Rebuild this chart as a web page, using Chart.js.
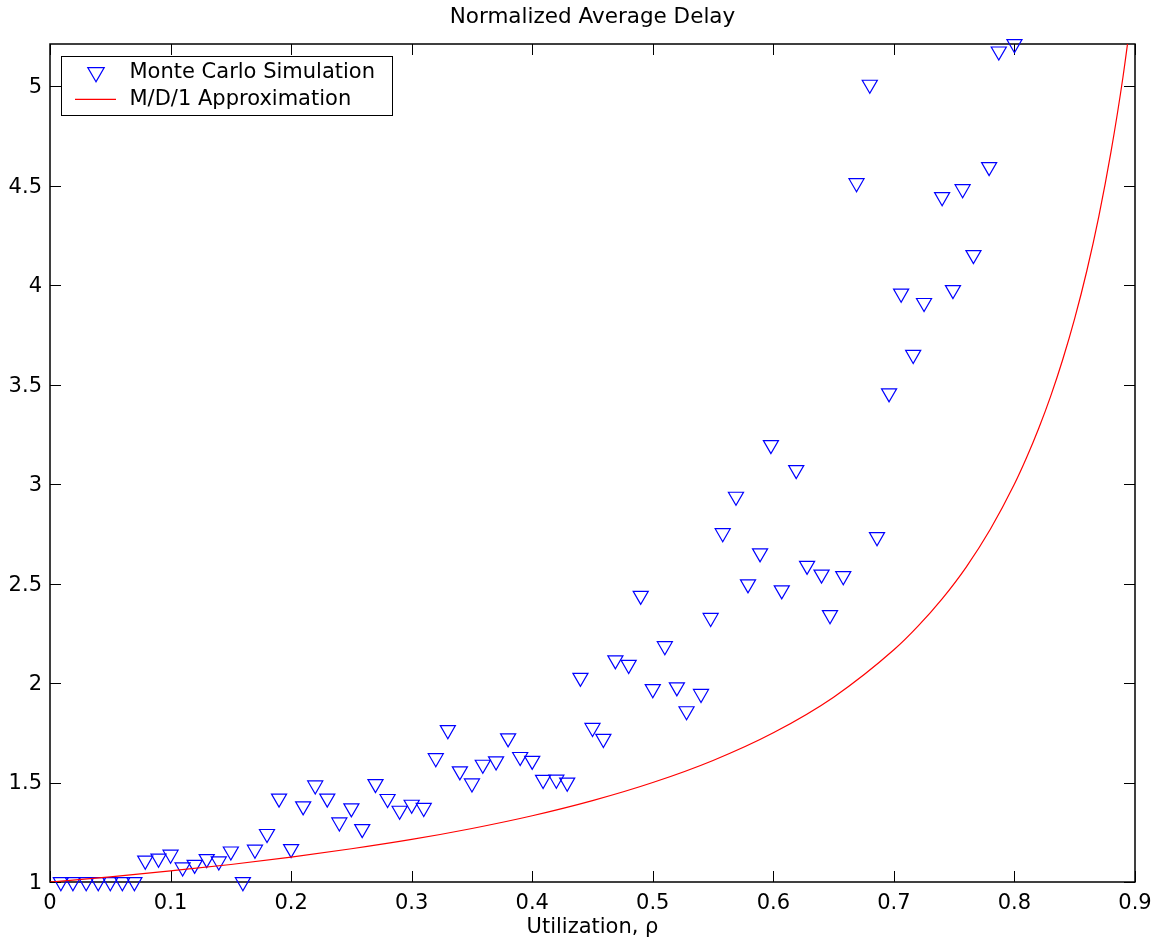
<!DOCTYPE html>
<html>
<head>
<meta charset="utf-8">
<script src="https://cdn.jsdelivr.net/npm/chart.js@4.4.1/dist/chart.umd.min.js"></script>
<style>
  html, body { margin: 0; padding: 0; background: #fff; }
  canvas { display: block; }
</style>
</head>
<body>
<canvas id="chart" width="1162" height="949"></canvas>
<script>
// Monte Carlo runs: measured utilization and normalized average delay
const simRho = [
  0.009, 0.019, 0.030, 0.040, 0.050, 0.060, 0.070, 0.079, 0.090, 0.100,
  0.110, 0.120, 0.130, 0.140, 0.150, 0.160, 0.170, 0.180, 0.190, 0.200,
  0.210, 0.220, 0.230, 0.240, 0.250, 0.259, 0.270, 0.280, 0.290, 0.300,
  0.310, 0.320, 0.330, 0.340, 0.350, 0.359, 0.370, 0.380, 0.390, 0.400,
  0.409, 0.420, 0.429, 0.440, 0.450, 0.459, 0.469, 0.480, 0.490, 0.500,
  0.510, 0.520, 0.528, 0.540, 0.548, 0.558, 0.569, 0.579, 0.589, 0.598,
  0.607, 0.619, 0.628, 0.640, 0.647, 0.658, 0.669, 0.680, 0.686, 0.696,
  0.706, 0.716, 0.725, 0.740, 0.749, 0.757, 0.766, 0.779, 0.787, 0.800
];
const simDelay = [
  1.000, 1.000, 1.000, 1.000, 1.000, 1.000, 1.000, 1.108, 1.118, 1.138,
  1.074, 1.087, 1.116, 1.104, 1.154, 1.000, 1.163, 1.242, 1.420, 1.166,
  1.381, 1.486, 1.420, 1.300, 1.371, 1.267, 1.493, 1.418, 1.359, 1.389,
  1.373, 1.623, 1.764, 1.557, 1.496, 1.590, 1.607, 1.723, 1.629, 1.610,
  1.514, 1.515, 1.500, 2.027, 1.775, 1.720, 2.115, 2.092, 2.439, 1.970,
  2.186, 1.979, 1.859, 1.946, 2.328, 2.754, 2.937, 2.497, 2.653, 3.197,
  2.467, 3.071, 2.590, 2.546, 2.342, 2.538, 4.513, 5.008, 2.734, 3.457,
  3.958, 3.650, 3.911, 4.443, 3.976, 4.483, 4.152, 4.594, 5.175, 5.212
];

// M/D/1 approximation curve
const mdRho = [
  0, 0.05, 0.1, 0.15, 0.2, 0.25, 0.3, 0.35, 0.4, 0.45, 0.5, 0.55, 0.6, 0.65,
  0.7, 0.72, 0.74, 0.76, 0.78, 0.8, 0.81, 0.82, 0.83, 0.84, 0.85, 0.86, 0.87,
  0.88, 0.89, 0.9
];
const mdDelay = [
  1, 1.026, 1.056, 1.088, 1.125, 1.167, 1.214, 1.269, 1.333, 1.409, 1.5, 1.611, 1.75, 1.929,
  2.167, 2.286, 2.423, 2.583, 2.773, 3.0, 3.132, 3.278, 3.441, 3.625, 3.833, 4.071, 4.346,
  4.667, 5.045, 5.5
];

const xTicks = [0, 0.1, 0.2, 0.3, 0.4, 0.5, 0.6, 0.7, 0.8, 0.9];
const xTickLabels = ['0', '0.1', '0.2', '0.3', '0.4', '0.5', '0.6', '0.7', '0.8', '0.9'];
const yTicks = [1, 1.5, 2, 2.5, 3, 3.5, 4, 4.5, 5];
const yTickLabels = ['1', '1.5', '2', '2.5', '3', '3.5', '4', '4.5', '5'];
const yMax = 5.212;

const FONT = 'DejaVu Sans';
Chart.defaults.font.family = FONT;
Chart.defaults.color = '#000';

// box round the plot with inward ticks on all four sides
const axesBox = {
  id: 'axesBox',
  beforeDatasetsDraw(chart) {
    const { ctx, chartArea: a, scales } = chart;
    const len = 11;
    ctx.save();
    ctx.strokeStyle = '#000';
    ctx.lineWidth = 1;
    ctx.beginPath();
    xTicks.forEach(v => {
      const px = Math.round(scales.x.getPixelForValue(v)) + 0.5;
      ctx.moveTo(px, a.bottom); ctx.lineTo(px, a.bottom - len);
      ctx.moveTo(px, a.top); ctx.lineTo(px, a.top + len);
    });
    yTicks.forEach(v => {
      const py = Math.round(scales.y.getPixelForValue(v)) + 0.5;
      ctx.moveTo(a.left, py); ctx.lineTo(a.left + len, py);
      ctx.moveTo(a.right, py); ctx.lineTo(a.right - len, py);
    });
    ctx.stroke();
    ctx.lineWidth = 1.5;
    ctx.strokeRect(a.left, a.top, a.right - a.left, a.bottom - a.top);
    ctx.restore();
  }
};

// legend box in the upper left corner of the plot
const boxLegend = {
  id: 'boxLegend',
  afterDraw(chart) {
    const { ctx, chartArea: a } = chart;
    const x0 = Math.round(a.left + 11) + 0.5;
    const y0 = Math.round(a.top + 12) + 0.5;
    ctx.save();
    ctx.fillStyle = '#fff';
    ctx.fillRect(x0, y0, 331, 59);
    ctx.strokeStyle = '#000';
    ctx.lineWidth = 1;
    ctx.strokeRect(x0, y0, 331, 59);
    ctx.font = '21px ' + FONT;
    ctx.textBaseline = 'middle';
    chart.data.datasets.forEach((ds, i) => {
      const cy = y0 + 15.8 + i * 27;
      ctx.strokeStyle = ds.borderColor;
      if (ds.showLine) {
        ctx.lineWidth = ds.borderWidth;
        ctx.beginPath();
        ctx.moveTo(x0 + 13.5, cy);
        ctx.lineTo(x0 + 54.5, cy);
        ctx.stroke();
      } else {
        const r = 9.5, cx = x0 + 34.5, s = Math.sin(Math.PI / 3) * r;
        ctx.lineWidth = ds.pointBorderWidth;
        ctx.beginPath();
        ctx.moveTo(cx, cy + r);
        ctx.lineTo(cx - s, cy - r / 2);
        ctx.lineTo(cx + s, cy - r / 2);
        ctx.closePath();
        ctx.stroke();
      }
      ctx.fillStyle = '#000';
      ctx.fillText(ds.label, x0 + 68, cy + 0.6);
    });
    ctx.restore();
  }
};

new Chart(document.getElementById('chart'), {
  type: 'scatter',
  data: {
    datasets: [
      {
        label: 'Monte Carlo Simulation',
        data: simRho.map((x, i) => ({ x, y: simDelay[i] })),
        pointStyle: 'triangle',
        pointRotation: 180,
        pointRadius: 8.7,
        pointHoverRadius: 8.7,
        pointBorderWidth: 1.2,
        pointBorderColor: '#0000ff',
        pointBackgroundColor: 'rgba(0,0,0,0)',
        borderColor: '#0000ff',
        clip: false,
        order: 1,
      },
      {
        label: 'M/D/1 Approximation',
        data: mdRho.map((x, i) => ({ x, y: mdDelay[i] })),
        showLine: true,
        pointRadius: 0,
        borderColor: '#ff0000',
        borderWidth: 1.2,
        cubicInterpolationMode: 'monotone',
        order: 0,
      },
    ],
  },
  options: {
    responsive: false,
    animation: false,
    events: [],
    layout: { padding: { right: 27 } },
    elements: { line: { capBezierPoints: false } },
    plugins: {
      legend: { display: false },
      tooltip: { enabled: false },
      title: {
        display: true,
        text: 'Normalized Average Delay',
        fullSize: false,
        color: '#000',
        font: { size: 21.5, weight: 'normal' },
        padding: { top: 5, bottom: 13.2 },
      },
    },
    scales: {
      x: {
        type: 'linear',
        min: 0,
        max: 0.9,
        afterBuildTicks: s => { s.ticks = xTicks.map(v => ({ value: v })); },
        afterFit: s => { s.height = 67; },
        grid: { display: false, drawTicks: false },
        border: { display: false },
        ticks: {
          padding: 9,
          autoSkip: false,
          maxRotation: 0,
          color: '#000',
          font: { size: 21 },
          callback: (v, i) => xTickLabels[i],
        },
        title: {
          display: true,
          text: 'Utilization, ρ',
          color: '#000',
          font: { size: 21 },
          padding: { top: 0, bottom: 9 },
        },
      },
      y: {
        type: 'linear',
        min: 1,
        max: yMax,
        afterBuildTicks: s => { s.ticks = yTicks.map(v => ({ value: v })); },
        afterFit: s => { s.width = 50; },
        grid: { display: false, drawTicks: false },
        border: { display: false },
        ticks: {
          padding: 8,
          labelOffset: 1.5,
          autoSkip: false,
          color: '#000',
          font: { size: 21 },
          callback: (v, i) => yTickLabels[i],
        },
      },
    },
  },
  plugins: [axesBox, boxLegend],
});
</script>
</body>
</html>
